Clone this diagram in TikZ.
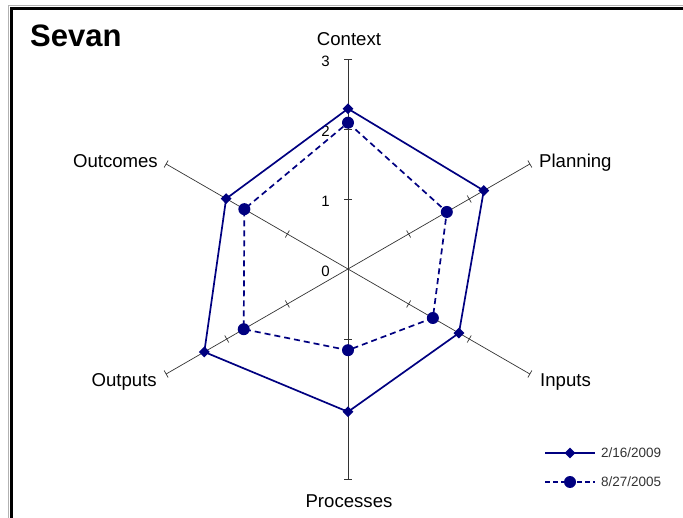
\documentclass[tikz,border=0pt]{standalone}
\usepackage{fontspec}
\setmainfont{Liberation Sans}
\usetikzlibrary{shapes.geometric}

\definecolor{navyblue}{RGB}{0,0,128}

\begin{document}
\begin{tikzpicture}[x=1bp, y=1bp,
    axisline/.style={draw=black!80, line width=0.7bp},
    series/.style={draw=navyblue, line width=1.7bp, line join=round},
    olddash/.style={series, dash pattern=on 6bp off 4bp},
    dia/.style={diamond, fill=navyblue, inner sep=0pt, minimum size=11bp},
    dot/.style={circle, fill=navyblue, inner sep=0pt, minimum size=12bp},
    axislabel/.style={font=\fontsize{18.6bp}{18.6bp}\selectfont, inner sep=0pt},
    numlabel/.style={font=\fontsize{15bp}{15bp}\selectfont, inner sep=0pt, anchor=east},
    leglabel/.style={font=\fontsize{13.5bp}{13.5bp}\selectfont, text=black!80, inner sep=0pt, anchor=west},
  ]
  \useasboundingbox (-348,-249) rectangle (335,269);

  % frame
  \draw[gray!60, line width=1bp] (-339,-249) -- (-339,263.5) -- (335,263.5);
  \draw[line width=2.5bp] (-336.5,-249) -- (-336.5,260.5) -- (335,260.5);

  \node[font=\fontsize{31bp}{31bp}\selectfont\bfseries, inner sep=0pt, anchor=base west] (title) at (-318,222) {Sevan};

  % axes with ticks
  \foreach \ang/\nm in {90/ctx,30/pln,-30/inp,-90/prc,-150/otp,150/otc} {
    \coordinate (\nm) at (\ang:210);
    \draw[axisline] (0,0) -- (\nm);
    \foreach \v in {1,2,3}
      \draw[axisline, rotate=\ang] (\v*70,-4) -- (\v*70,4);
  }

  % scale
  \foreach \v in {0,1,2,3}
    \node[numlabel] (num\v) at (-18,\v*70-2) {\v};

  % axis names
  \node[axislabel, anchor=base] (ctxlbl) at (1,223) {Context};
  \node[axislabel, anchor=base west] (plnlbl) at (191,101) {Planning};
  \node[axislabel, anchor=base west] (inplbl) at (192,-118) {Inputs};
  \node[axislabel, anchor=base] (prclbl) at (1,-238) {Processes};
  \node[axislabel, anchor=base east] (otplbl) at (-191,-118) {Outputs};
  \node[axislabel, anchor=base east] (otclbl) at (-190,101) {Outcomes};

  % 2/16/2009
  \foreach \i/\ang/\v in {1/90/2.29, 2/30/2.24, 3/-30/1.83, 4/-90/2.04, 5/-150/2.37, 6/150/2.01}
    \coordinate (n\i) at (\ang:\v*70);
  \draw[series] (n1) -- (n2) -- (n3) -- (n4) -- (n5) -- (n6) -- cycle;
  \foreach \i in {1,...,6}
    \node[dia] (nm\i) at (n\i) {};

  % 8/27/2005
  \foreach \i/\ang/\v in {1/90/2.09, 2/30/1.63, 3/-30/1.40, 4/-90/1.16, 5/-150/1.72, 6/150/1.71}
    \coordinate (o\i) at (\ang:\v*70);
  \draw[olddash] (o1) -- (o2) -- (o3) -- (o4) -- (o5) -- (o6) -- cycle;
  \foreach \i in {1,...,6}
    \node[dot] (om\i) at (o\i) {};

  % legend
  \coordinate (legnl) at (197,-184);
  \coordinate (legnr) at (247,-184);
  \draw[series] (legnl) -- (legnr);
  \node[dia] (legnm) at (222,-184) {};
  \node[leglabel] (legntxt) at (253,-184) {2/16/2009};

  \coordinate (legol) at (197,-213);
  \coordinate (legor) at (247,-213);
  \draw[olddash, dash pattern=on 5bp off 3bp] (legol) -- (legor);
  \node[dot] (legom) at (222,-213) {};
  \node[leglabel] (legotxt) at (253,-213) {8/27/2005};
\end{tikzpicture}
\end{document}
